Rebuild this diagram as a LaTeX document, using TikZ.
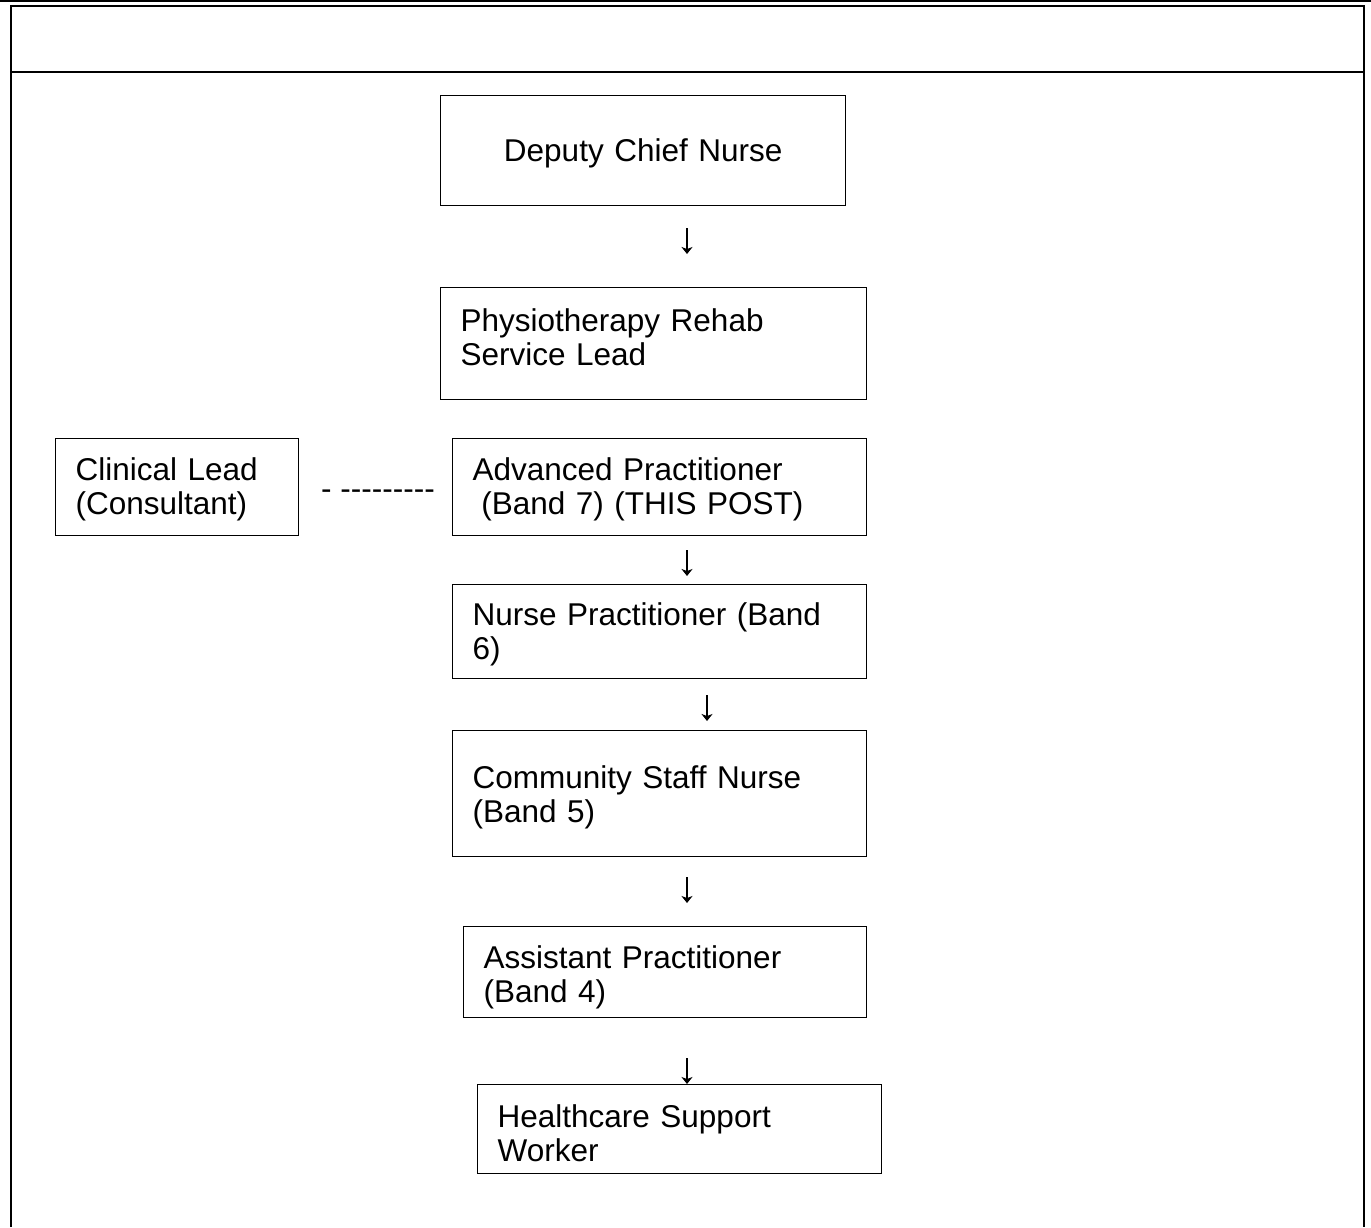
\documentclass[tikz,border=0pt]{standalone}
\usepackage{fontspec}
\setmainfont{Liberation Sans}
\usetikzlibrary{arrows.meta}
\newdimen\px \px=0.4pt

\begin{document}
\begin{tikzpicture}[
      x=0.4pt, y=-0.4pt,
      frame line/.style={line width=2\px},
      post box/.style={draw, line width=1.3\px, anchor=north west,
        inner xsep=20\px, inner ysep=0pt, text width=#1, align=left,
        font=\fontsize{12.6}{13.6}\selectfont},
      post box/.default=330\px,
      down link/.style={-{Stealth[length=2.8pt,width=4.4pt,inset=0.8pt]}, line width=0.6pt},
      dash text/.style={inner sep=0pt, font=\fontsize{12.6}{13.6}\selectfont}]
    \useasboundingbox (0,0) rectangle (1371,1227);
    % page frame
    \draw[frame line] (0,1) -- (1371,1);
    \draw[frame line] (11,1227) -- (11,6) -- (1364,6) -- (1364,1227);
    \draw[frame line] (11,72) -- (1364,72);
    % posts
    \node[post box=365\px, align=center, text height=66\px, text depth=44\px] (dcn) at (440,95) {Deputy Chief Nurse};
    \node[post box=386\px, text height=44\px, text depth=68\px] (prl) at (440,287) {Physiotherapy Rehab\\Service Lead};
    \node[post box=203\px, text height=42\px, text depth=55\px] (clead) at (55,438) {Clinical Lead\\(Consultant)};
    \node[post box=374\px, text height=42\px, text depth=55\px] (advp) at (452,438) {Advanced Practitioner\\\hspace*{.278em}(Band 7) (THIS POST)};
    \node[post box=374\px, text height=41\px, text depth=53\px] (nursep) at (452,584) {Nurse Practitioner (Band\\6)};
    \node[post box=374\px, text height=58\px, text depth=68\px] (csn) at (452,730) {Community Staff Nurse\\(Band 5)};
    \node[post box=363\px, text height=42\px, text depth=49\px] (asst) at (463,926) {Assistant Practitioner\\(Band 4)};
    \node[post box=364\px, text height=43\px, text depth=46\px] (hsw) at (477,1084) {Healthcare Support\\Worker};
    % reporting arrows
    \foreach \i/\x/\y in {1/687/228, 2/687/550, 3/707/695, 4/687/877, 5/687/1058}
      \coordinate (d\i) at (\x,\y);
    \foreach \i in {1,...,5}
      \draw[down link] (d\i) -- ++(0,26);
    \node[dash text, anchor=base] (dash) at (378,499) {-{} -{}-{}-{}-{}-{}-{}-{}-{}-};
    \end{tikzpicture}
\end{document}
